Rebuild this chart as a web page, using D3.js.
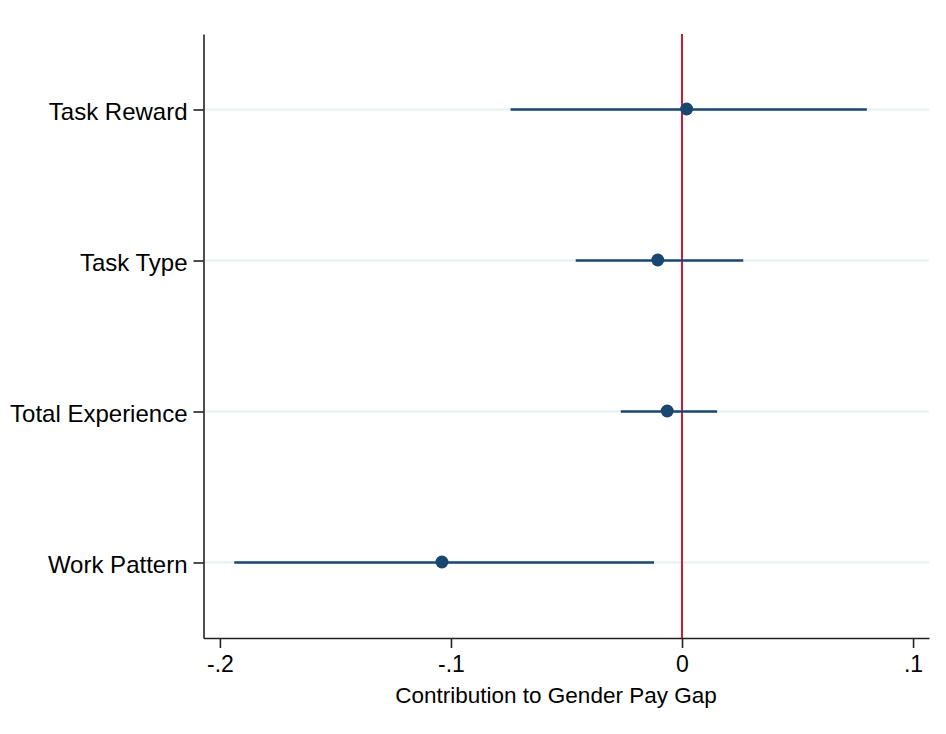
<!DOCTYPE html>
<html>
<head>
<meta charset="utf-8">
<script src="https://cdn.jsdelivr.net/npm/d3@7"></script>
<style>
  html, body { margin: 0; padding: 0; background: #fff; }
  svg { display: block; font-family: "Liberation Sans", Arial, Helvetica, sans-serif; }
</style>
</head>
<body>
<svg id="chart" width="946" height="734"></svg>
<script>
// Decomposition components, top to bottom
const categories = ["Task Reward", "Task Type", "Total Experience", "Work Pattern"];
// Point estimates and 95% confidence bounds
const estimates = [0.002, -0.0105, -0.0064, -0.1039];
const lowerCI   = [-0.0742, -0.046, -0.0265, -0.1938];
const upperCI   = [0.080, 0.0265, 0.0152, -0.0121];
const xTicks = [-0.2, -0.1, 0, 0.1];
const xTickLabels = ["-.2", "-.1", "0", ".1"];
const xTitle = "Contribution to Gender Pay Gap";

const svg = d3.select("#chart");
const plotLeft = 203.5, plotRight = 929, plotTop = 34, plotBottom = 638;

const x = d3.scaleLinear().domain([-0.2071, 0.1069]).range([plotLeft, plotRight]);
const y = d3.scalePoint().domain(categories).range([plotTop, plotBottom]).padding(0.5);

const navy = "#1a476f";
const grid = "#e6eff1";

// horizontal grid lines
svg.append("g").selectAll("line").data(categories).join("line")
  .attr("x1", plotLeft).attr("x2", plotRight)
  .attr("y1", d => y(d)).attr("y2", d => y(d))
  .attr("stroke", grid).attr("stroke-width", 2);

// reference line at zero
svg.append("line")
  .attr("x1", x(0)).attr("x2", x(0))
  .attr("y1", plotTop).attr("y2", plotBottom)
  .attr("stroke", "#d2173f").attr("stroke-width", 2);

// confidence intervals
svg.append("g").selectAll("line").data(categories).join("line")
  .attr("x1", (d, i) => x(lowerCI[i])).attr("x2", (d, i) => x(upperCI[i]))
  .attr("y1", d => y(d)).attr("y2", d => y(d))
  .attr("stroke", navy).attr("stroke-width", 2.5);

// point estimates
svg.append("g").selectAll("circle").data(categories).join("circle")
  .attr("cx", (d, i) => x(estimates[i])).attr("cy", d => y(d) - 0.5)
  .attr("r", 6.5).attr("fill", navy);

// x axis
const xAxis = d3.axisBottom(x).tickValues(xTicks)
  .tickFormat((d, i) => xTickLabels[i]).tickSize(10).tickPadding(8).tickSizeOuter(0);
const gx = svg.append("g").attr("transform", `translate(0,${plotBottom})`).call(xAxis);
gx.select(".domain").attr("stroke", "#222").attr("stroke-width", 1.6);
gx.selectAll(".tick line").attr("stroke", "#222").attr("stroke-width", 1.6);
gx.selectAll(".tick text").attr("font-size", 23).attr("fill", "#000")
  .attr("font-family", "Liberation Sans, Arial, sans-serif");

// y axis
const yAxis = d3.axisLeft(y).tickSize(10).tickPadding(6).tickSizeOuter(0);
const gy = svg.append("g").attr("transform", `translate(${plotLeft},0)`).call(yAxis);
gy.select(".domain").attr("stroke", "#222").attr("stroke-width", 1.6);
gy.selectAll(".tick line").attr("stroke", "#222").attr("stroke-width", 1.6);
gy.selectAll(".tick text").attr("font-size", 24).attr("fill", "#000")
  .attr("dy", "0.4em")
  .attr("font-family", "Liberation Sans, Arial, sans-serif");

// axis title
svg.append("text")
  .attr("x", 556).attr("y", 703)
  .attr("text-anchor", "middle")
  .attr("font-size", 22.5).attr("fill", "#000")
  .text(xTitle);
</script>
</body>
</html>
